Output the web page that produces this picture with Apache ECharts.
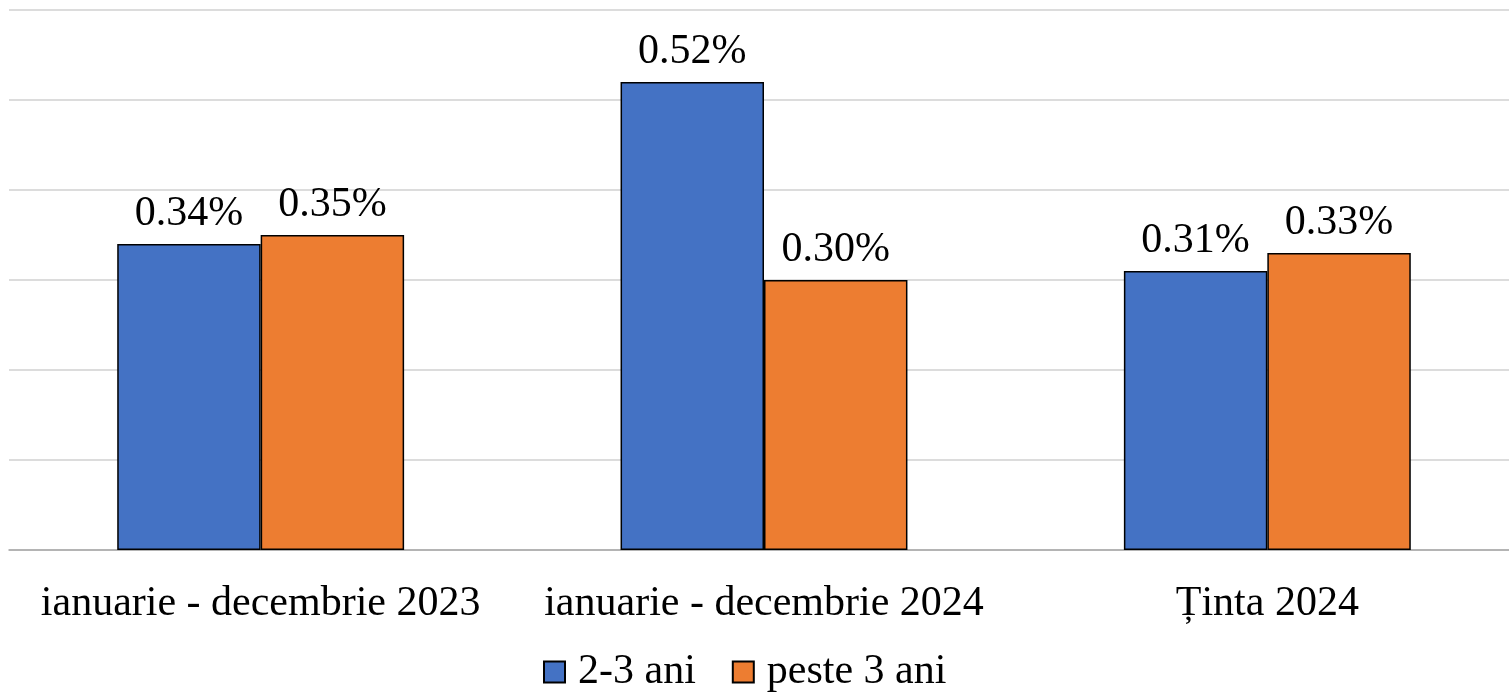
<!DOCTYPE html>
<html>
<head>
<meta charset="utf-8">
<script src="https://cdn.jsdelivr.net/npm/echarts@6/dist/echarts.min.js"></script>
<style>
html, body { margin: 0; padding: 0; background: #fff; }
#chart { width: 1509px; height: 692px; }
</style>
</head>
<body>
<div id="chart"></div>
<script>
const categories = ['ianuarie - decembrie 2023', 'ianuarie - decembrie 2024', 'Ținta 2024']
const seriesNames = ['2-3 ani', 'peste 3 ani']
const ani23 = [0.34, 0.52, 0.31]
const peste3 = [0.35, 0.30, 0.33]

const colors = ['#4472C4', '#ED7D31']
const font = '"Liberation Serif", "Times New Roman", serif'

let myChart = echarts.init(document.getElementById('chart'))
let labelStyle = {
  show: true,
  position: 'top',
  distance: 9,
  fontFamily: font,
  fontSize: 42,
  color: '#000',
  formatter: p => p.value.toFixed(2) + '%'
}

let option = {
  animation: false,
  color: colors,
  grid: {
    left: 9,
    top: 10,
    bottom: 142,
    width: 1510,
    outerBoundsMode: 'none'
  },
  legend: {
    left: 543,
    top: 651,
    padding: 0,
    itemWidth: 21,
    itemHeight: 21,
    itemGap: 36,
    icon: 'rect',
    textStyle: {
      fontFamily: font,
      fontSize: 42,
      color: '#000',
      padding: [0, 0, 0, 8]
    },
    data: seriesNames
  },
  xAxis: {
    type: 'category',
    data: categories,
    axisTick: { show: false },
    axisLine: { lineStyle: { color: '#a6a6a6', width: 1.5 } },
    axisLabel: {
      interval: 0,
      margin: 33,
      fontFamily: font,
      fontSize: 42,
      color: '#000'
    }
  },
  yAxis: {
    type: 'value',
    min: 0,
    max: 0.6,
    interval: 0.1,
    axisLabel: { show: false },
    axisLine: { show: false },
    axisTick: { show: false },
    splitLine: { lineStyle: { color: '#d0d0d0', width: 1.5 } }
  },
  series: [
    {
      name: seriesNames[0],
      type: 'bar',
      data: ani23,
      barGap: '0%',
      barCategoryGap: '43%',
      itemStyle: { borderColor: '#000', borderWidth: 1.5 },
      label: labelStyle
    },
    {
      name: seriesNames[1],
      type: 'bar',
      data: peste3,
      itemStyle: { borderColor: '#000', borderWidth: 1.5 },
      label: labelStyle
    }
  ]
}

myChart.setOption(option)
</script>
</body>
</html>
